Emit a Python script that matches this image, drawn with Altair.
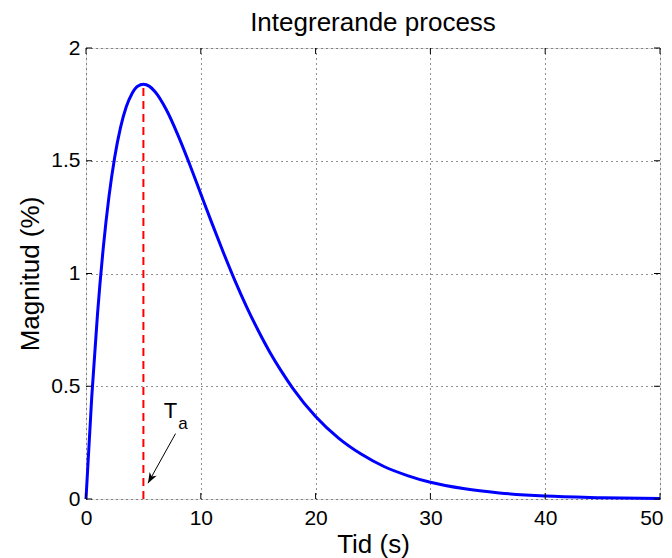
import altair as alt
import pandas as pd

# values
t_vals = [0, 0.5, 1, 1.5, 2, 2.5, 3, 3.5, 4, 4.5, 5, 5.5, 6, 7, 8, 9, 10, 11, 12, 13,
          14, 15, 16, 17, 18, 20, 22, 24, 26, 28, 30, 33, 36, 40, 45, 50]
y_vals = [0, 0.452, 0.819, 1.111, 1.341, 1.516, 1.646, 1.738, 1.797, 1.830, 1.839, 1.831,
          1.807, 1.726, 1.615, 1.488, 1.353, 1.219, 1.089, 0.965, 0.851, 0.747, 0.652,
          0.568, 0.492, 0.366, 0.270, 0.198, 0.143, 0.104, 0.074, 0.045, 0.027, 0.013,
          0.006, 0.002]
peak_t = [5]
peak_y = [1.84]
x_ticks = [0, 10, 20, 30, 40, 50]
y_ticks = [0, 0.5, 1, 1.5, 2]
arrow_from = [7.8, 0.29]
arrow_to = [5.4, 0.07]
label_main = ["T", 7.35, 0.36]
label_sub = ["a", 8.45, 0.31]
title_text = ["Integrerande process"]

W, H = 574, 451
FONT = "Liberation Sans"

curve_df = pd.DataFrame({"t": t_vals, "y": y_vals})
peak_df = pd.DataFrame({"t": peak_t, "y0": [0], "y": peak_y})
xt_df = pd.DataFrame({"t": x_ticks})
yt_df = pd.DataFrame({"y": y_ticks})
arrow_df = pd.DataFrame({"t": [arrow_from[0]], "y": [arrow_from[1]],
                         "t2": [arrow_to[0]], "y2": [arrow_to[1]]})
head_df = pd.DataFrame({"t": [arrow_to[0]], "y": [arrow_to[1]]})
lab_df = pd.DataFrame({"txt": [label_main[0]], "t": [label_main[1]], "y": [label_main[2]]})
sub_df = pd.DataFrame({"txt": [label_sub[0]], "t": [label_sub[1]], "y": [label_sub[2]]})
title_df = pd.DataFrame({"txt": title_text})

xscale = alt.Scale(domain=[0, 50], nice=False, zero=False)
yscale = alt.Scale(domain=[0, 2], nice=False)

last_x = x_ticks[-1]
xaxis = alt.Axis(values=x_ticks, format="~g", grid=True, ticks=False, domain=False,
                 gridDash=[1, 4], gridColor="#222222", gridWidth=1, labelFlush=False,
                 labelAlign={"condition": {"test": f"datum.value == {last_x}", "value": "right"},
                             "value": "center"},
                 labelOffset={"condition": {"test": f"datum.value == {last_x}", "value": 3},
                              "value": 0},
                 labelFontSize=21, labelPadding=8, labelColor="black", labelFont=FONT,
                 title="Tid (s)", titleFontSize=26, titleFontWeight="normal", titleFont=FONT,
                 titleColor="black", titleBaseline="alphabetic", titleY=53)
yaxis = alt.Axis(values=y_ticks, format="~g", grid=True, ticks=False, domain=False,
                 gridDash=[1, 4], gridColor="#222222", gridWidth=1, labelFlush=False,
                 labelFontSize=21, labelPadding=6, labelColor="black", labelFont=FONT,
                 title="Magnitud (%)", titleFontSize=26, titleFontWeight="normal", titleFont=FONT,
                 titleColor="black", titleBaseline="alphabetic", titleX=-48, titleAngle=270)

curve = alt.Chart(curve_df).mark_line(color="#0000ff", strokeWidth=3, interpolate="monotone").encode(
    x=alt.X("t:Q", scale=xscale, axis=xaxis),
    y=alt.Y("y:Q", scale=yscale, axis=yaxis),
)

peak = alt.Chart(peak_df).mark_rule(color="#ff0000", strokeWidth=2, strokeDash=[8, 5]).encode(
    x=alt.X("t:Q", scale=xscale), y=alt.Y("y0:Q", scale=yscale), y2="y:Q"
)

tick_style = dict(color="black", strokeWidth=1)
bt = alt.Chart(xt_df).mark_rule(**tick_style).encode(
    x=alt.X("t:Q", scale=xscale), y=alt.value(H), y2=alt.value(H - 6))
tt = alt.Chart(xt_df).mark_rule(**tick_style).encode(
    x=alt.X("t:Q", scale=xscale), y=alt.value(0), y2=alt.value(6))
lt = alt.Chart(yt_df).mark_rule(**tick_style).encode(
    y=alt.Y("y:Q", scale=yscale), x=alt.value(0), x2=alt.value(6))
rt = alt.Chart(yt_df).mark_rule(**tick_style).encode(
    y=alt.Y("y:Q", scale=yscale), x=alt.value(W), x2=alt.value(W - 6))

shaft = alt.Chart(arrow_df).mark_rule(color="black", strokeWidth=1).encode(
    x=alt.X("t:Q", scale=xscale), y=alt.Y("y:Q", scale=yscale), x2="t2:Q", y2="y2:Q")
head = alt.Chart(head_df).mark_point(
    shape="M0,0 L0.6,1.6 L0,1.15 L-0.6,1.6 Z", filled=True, color="black",
    size=180, angle=209, opacity=1, strokeWidth=0).encode(
    x=alt.X("t:Q", scale=xscale), y=alt.Y("y:Q", scale=yscale))

lab = alt.Chart(lab_df).mark_text(font=FONT, fontSize=22, color="black",
                                  align="center", baseline="alphabetic").encode(
    x=alt.X("t:Q", scale=xscale), y=alt.Y("y:Q", scale=yscale), text="txt:N")
sub = alt.Chart(sub_df).mark_text(font=FONT, fontSize=17, color="black",
                                  align="center", baseline="alphabetic").encode(
    x=alt.X("t:Q", scale=xscale), y=alt.Y("y:Q", scale=yscale), text="txt:N")

title = alt.Chart(title_df).mark_text(font=FONT, fontSize=26, color="black",
                                      align="center", baseline="alphabetic").encode(
    x=alt.value(W / 2), y=alt.value(-17), text="txt:N")

chart = alt.layer(curve, peak, bt, tt, lt, rt, shaft, head, lab, sub, title).properties(
    width=W, height=H,
    autosize=alt.AutoSizeParams(type="none"),
    padding={"left": 78, "top": 40, "right": 4, "bottom": 60},
).configure_view(stroke="black", strokeWidth=1).configure(background="white")

chart.save("out.html", embed_options={"renderer": "svg", "actions": False})
